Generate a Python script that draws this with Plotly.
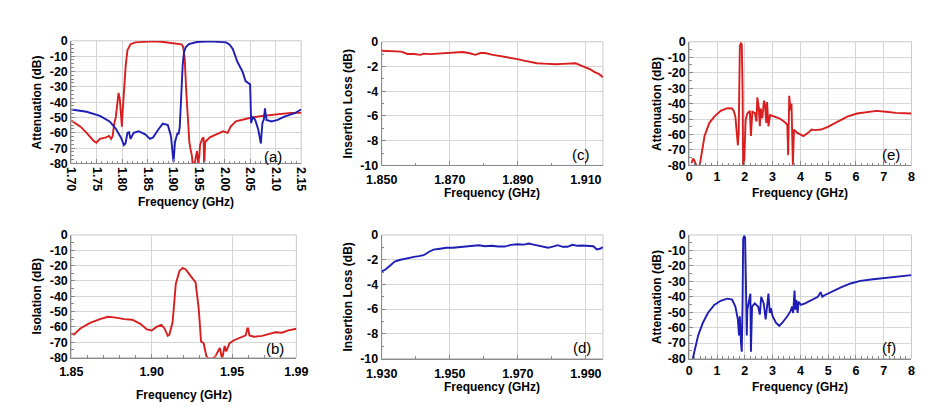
import plotly.graph_objects as go

W, H = 938, 410
RED = "#d81e1e"
BLUE = "#1e1eb4"

# ---------------- (a) duplexer attenuation ----------------
a_red_f = [1.700, 1.708, 1.718, 1.730, 1.743, 1.749, 1.756, 1.762, 1.768, 1.774, 1.778, 1.781, 1.784, 1.787,
           1.790, 1.7925, 1.795, 1.797, 1.799, 1.8005, 1.803, 1.8065, 1.810, 1.816, 1.8255, 1.845, 1.860,
           1.876, 1.895, 1.910, 1.916, 1.919, 1.922, 1.925, 1.928, 1.931, 1.933, 1.936, 1.938, 1.941, 1.943,
           1.946, 1.949, 1.952, 1.956, 1.959, 1.960, 1.962, 1.965, 1.971, 1.984, 1.997, 2.006, 2.012, 2.022,
           2.035, 2.047, 2.073, 2.098, 2.130, 2.150]
a_red_db = [-52, -54, -56, -60, -65, -66.5, -64, -63.5, -63, -62, -64, -62, -54, -50,
            -42, -34, -38, -48, -56, -46, -33, -16, -6, -2.2, -1.0, -0.5, -0.4,
            -0.6, -1.2, -1.7, -2.3, -4, -12, -33, -54, -66, -70, -75, -82, -82, -77,
            -72, -82, -68, -64, -63, -82, -66, -65, -63, -61, -59, -60, -56, -52.5,
            -51.5, -50.5, -49, -48, -47, -47]

a_blue_f = [1.700, 1.730, 1.756, 1.775, 1.7875, 1.797, 1.803, 1.806, 1.810, 1.813, 1.816, 1.822, 1.832,
            1.8445, 1.854, 1.860, 1.870, 1.879, 1.889, 1.895, 1.900, 1.903, 1.908, 1.910, 1.9123, 1.9155,
            1.918, 1.9206, 1.924, 1.930, 1.946, 1.971, 1.990, 2.003, 2.010, 2.016, 2.025, 2.035, 2.041,
            2.047, 2.050, 2.052, 2.055, 2.060, 2.066, 2.071, 2.074, 2.077, 2.079, 2.082, 2.092, 2.104,
            2.117, 2.136, 2.150]
a_blue_db = [-44.8, -46.3, -49, -52.6, -57.5, -63, -68, -67, -60, -59.6, -64, -60, -59,
             -61, -64, -63, -58, -54, -55, -62, -79, -66, -60, -61, -56, -32.6,
             -15.8, -7.4, -4.2, -2.1, -0.8, -0.4, -0.5, -1.0, -2.5, -5.3, -13.7, -20, -26.3,
             -28, -28.4, -53.7, -49.5, -51.6, -58, -67, -53.7, -51, -44, -51.6, -52.6, -51.6,
             -49.5, -47.4, -44.8]

# ---------------- (b) isolation ----------------
b_f = [1.8500, 1.8516, 1.8556, 1.8617, 1.8678, 1.8728, 1.8778, 1.8829, 1.8879, 1.8930, 1.8970, 1.9000,
       1.9030, 1.9060, 1.9080, 1.9100, 1.9110, 1.9130, 1.9150, 1.9172, 1.9192, 1.9212, 1.9242, 1.9273,
       1.9293, 1.9307, 1.9323, 1.9340, 1.9353, 1.9375, 1.9394, 1.9424, 1.9438, 1.9454, 1.9464, 1.9484,
       1.9515, 1.9545, 1.9565, 1.9585, 1.9595, 1.9600, 1.9608, 1.9636, 1.9686, 1.9746, 1.9770, 1.9810,
       1.9850, 1.9900]
b_db = [-64.3, -65, -61, -57.4, -54.9, -53.4, -53.9, -54.9, -55.3, -58, -61.6, -62.3,
        -60, -58.7, -61, -65.8, -65, -57, -32, -23.6, -21.5, -22.5, -26.7, -30.9,
        -48.6, -69.5, -70.6, -79, -80.5, -80.5, -79.5, -73.7, -81, -72.4, -76, -70.6,
        -68.5, -67, -66.4, -65.5, -61, -61, -65.6, -66.4, -65.8, -64.3, -63.5, -63.8,
        -62.2, -61.2]

# ---------------- (c) Tx insertion loss ----------------
c_f = [1.8500, 1.8528, 1.8557, 1.8576, 1.8595, 1.8614, 1.8623, 1.8642, 1.8671, 1.8700, 1.8718, 1.8737,
       1.8756, 1.8775, 1.8790, 1.8804, 1.8823, 1.8842, 1.8861, 1.8880, 1.8899, 1.8918, 1.8937, 1.8956,
       1.8975, 1.8994, 1.9013, 1.9032, 1.9051, 1.9070, 1.9084, 1.9098, 1.9113, 1.9127, 1.9138, 1.9150]
c_db = [-0.73, -0.78, -0.80, -0.99, -0.99, -1.06, -0.96, -1.00, -0.94, -0.91, -0.88, -0.83,
        -0.91, -1.06, -0.91, -0.91, -1.04, -1.12, -1.25, -1.32, -1.40, -1.53, -1.66, -1.74,
        -1.77, -1.82, -1.82, -1.79, -1.79, -1.74, -1.90, -2.03, -2.23, -2.47, -2.60, -2.86]

# ---------------- (d) Rx insertion loss ----------------
d_f = [1.9300, 1.9311, 1.9324, 1.9338, 1.9352, 1.9371, 1.9395, 1.9409, 1.9423, 1.9438, 1.9452, 1.9471,
       1.9490, 1.9509, 1.9528, 1.9547, 1.9566, 1.9585, 1.9604, 1.9623, 1.9642, 1.9661, 1.9680, 1.9699,
       1.9718, 1.9732, 1.9746, 1.9765, 1.9789, 1.9808, 1.9817, 1.9832, 1.9846, 1.9860, 1.9875, 1.9889,
       1.9908, 1.9922, 1.9932, 1.9941, 1.9950]
d_db = [-2.94, -2.80, -2.49, -2.16, -2.03, -1.90, -1.77, -1.71, -1.64, -1.38, -1.19, -1.12,
        -1.04, -1.04, -0.99, -0.94, -0.83, -0.83, -0.91, -0.88, -0.94, -0.94, -0.80, -0.75,
        -0.78, -0.70, -0.78, -0.91, -1.04, -0.91, -0.83, -0.96, -0.96, -0.80, -0.88, -0.86,
        -0.91, -0.91, -1.17, -1.12, -0.99]

# ---------------- (e) wideband Tx ----------------
e_f = [0.08, 0.14, 0.20, 0.26, 0.37, 0.43, 0.55, 0.72, 0.90, 1.13, 1.37, 1.54, 1.60, 1.66, 1.72, 1.75,
       1.78, 1.80, 1.82, 1.86, 1.89, 1.92, 1.94, 1.97, 2.03, 2.09, 2.18, 2.22, 2.27, 2.36, 2.42, 2.45,
       2.50, 2.54, 2.57, 2.63, 2.69, 2.73, 2.77, 2.80, 2.85, 2.91, 3.06, 3.24, 3.41, 3.53, 3.56, 3.60,
       3.64, 3.68, 3.73, 3.77, 3.88, 4.00, 4.11, 4.29, 4.40, 4.52, 4.75, 4.99, 5.34, 5.69, 6.04, 6.39,
       6.74, 7.09, 7.44, 8.00]
e_db = [-78.6, -75.5, -77.5, -80.5, -80.5, -73.4, -61, -52.6, -48.4, -44.7, -43, -43.2, -44.7, -48.4, -63, -67,
        -58.8, -31.8, -2.7, -1.0, -1.7, -31.8, -82, -82, -50.5, -46.4, -44.7, -61, -45.3, -46, -51.6, -36,
        -42.2, -54.7, -43.2, -49.5, -38, -41.2, -52.6, -39, -54.7, -47.4, -48.4, -49.5, -51.6, -53.6, -73.4, -35,
        -44.3, -40, -79.6, -56.8, -58.8, -60, -61, -58.8, -56.8, -57.2, -56.8, -55, -51.6, -48.4, -46.4, -45.3,
        -44.7, -45.3, -46, -46.4]

# ---------------- (f) wideband Rx ----------------
f_f = [0.12, 0.20, 0.32, 0.49, 0.67, 0.90, 1.13, 1.37, 1.54, 1.66, 1.75, 1.79, 1.82, 1.86, 1.89, 1.92,
       1.94, 1.97, 2.01, 2.04, 2.07, 2.09, 2.16, 2.20, 2.22, 2.26, 2.36, 2.48, 2.54, 2.59, 2.68, 2.75,
       2.80, 2.85, 2.90, 2.94, 3.00, 3.12, 3.24, 3.35, 3.53, 3.64, 3.70, 3.74, 3.79, 3.82, 3.86, 3.90,
       3.94, 4.02, 4.17, 4.40, 4.63, 4.73, 4.79, 4.87, 5.10, 5.46, 5.81, 6.16, 6.62, 7.09, 7.56, 8.00]
f_db = [-80.5, -73.4, -65, -56.8, -50.5, -45.3, -42.6, -41.2, -41.8, -46.4, -54.7, -65, -52.6, -69.2, -75.5, -42.2,
        -2.7, -0.6, -1.7, -31.8, -65, -48.4, -42.2, -38, -75.5, -46.4, -44.3, -46.4, -51.6, -40, -44.3, -54.7,
        -46.4, -38, -50.5, -47.4, -52.6, -56.8, -58.8, -56.8, -52.6, -49.5, -46.4, -50.5, -36, -48.4, -42.2, -50.5,
        -43.2, -45.3, -44.3, -42.2, -40, -37, -40, -39, -37, -33.9, -31.4, -29.7, -28.7, -27.7, -27, -26]

# tick definitions
db80_vals = [0, -10, -20, -30, -40, -50, -60, -70, -80]
db80_text = ["0", "-10", "-20", "-30", "-40", "-50", "-60", "-70", "-80"]
db10_vals = [0, -2, -4, -6, -8, -10]
db10_text = ["0", "-2", "-4", "-6", "-8", "-10"]
a_xticks = [1.70, 1.75, 1.80, 1.85, 1.90, 1.95, 2.00, 2.05, 2.10, 2.15]
b_xticks = [1.85, 1.90, 1.95, 1.99]
c_xticks = [1.850, 1.870, 1.890, 1.910]
d_xticks = [1.930, 1.950, 1.970, 1.990]
e_xticks = [0, 1, 2, 3, 4, 5, 6, 7, 8]

FONT = "Liberation Sans"
fig = go.Figure()

# pixel boxes (left, top, right, bottom)
boxes = [
    (57, 35, 294, 162),   # a
    (377, 36, 605, 164),  # c
    (694, 36, 923, 164),  # e
    (57, 236, 289, 363),  # b
    (377, 236, 605, 364), # d
    (694, 236, 923, 364), # f
]

series = [
    [(a_red_f, a_red_db, RED), (a_blue_f, a_blue_db, BLUE)],
    [(c_f, c_db, RED)],
    [(e_f, e_db, RED)],
    [(b_f, b_db, RED)],
    [(d_f, d_db, BLUE)],
    [(f_f, f_db, BLUE)],
]

xcfg = [
    dict(range=[1.70, 2.15], tickvals=a_xticks, ticktext=[f"{v:.2f}" for v in a_xticks], tickangle=90,
         minor=dict(tick0=1.70, dtick=0.01)),
    dict(range=[1.850, 1.915], tickvals=c_xticks, ticktext=[f"{v:.3f}" for v in c_xticks], tickangle=0,
         minor=dict(tick0=1.85, dtick=0.01), ticklabelstandoff=3),
    dict(range=[0, 8], tickvals=e_xticks, ticktext=[str(v) for v in e_xticks], tickangle=0,
         minor=dict(tick0=0, dtick=0.2)),
    dict(range=[1.85, 1.99], tickvals=b_xticks, ticktext=[f"{v:.2f}" for v in b_xticks], tickangle=0,
         minor=dict(tick0=1.85, dtick=0.01), ticklabelstandoff=2),
    dict(range=[1.930, 1.995], tickvals=d_xticks, ticktext=[f"{v:.3f}" for v in d_xticks], tickangle=0,
         minor=dict(tick0=1.93, dtick=0.01), ticklabelstandoff=3),
    dict(range=[0, 8], tickvals=e_xticks, ticktext=[str(v) for v in e_xticks], tickangle=0,
         minor=dict(tick0=0, dtick=0.2)),
]
ycfg = [
    dict(range=[-80, 0], tickvals=db80_vals, ticktext=db80_text, minor=dict(tick0=0, dtick=2.5)),
    dict(range=[-10, 0], tickvals=db10_vals, ticktext=db10_text, minor=dict(tick0=0, dtick=1)),
    dict(range=[-80, 0], tickvals=db80_vals, ticktext=db80_text, minor=dict(tick0=0, dtick=5)),
    dict(range=[-80, 0], tickvals=db80_vals, ticktext=db80_text, minor=dict(tick0=0, dtick=5)),
    dict(range=[-10, 0], tickvals=db10_vals, ticktext=db10_text, minor=dict(tick0=0, dtick=1)),
    dict(range=[-80, 0], tickvals=db80_vals, ticktext=db80_text, minor=dict(tick0=0, dtick=5)),
]
ytitles = ["Attenuation (dB)", "Insertion Loss (dB)", "Attenuation (dB)",
           "Isolation (dB)", "Insertion Loss (dB)", "Attenuation (dB)"]
xtitle_y = [202, 193, 193, 402, 393, 393]
ytitle_x = [22, 342, 660, 22, 342, 660]
labels = ["(a)", "(c)", "(e)", "(b)", "(d)", "(f)"]
label_pos = [(265, 155), (582, 153), (902, 153), (267, 354), (583, 353), (900, 353)]

tickfont = dict(family=FONT, size=12.5, color="black", weight="bold")
titlefont = dict(family=FONT, size=12, color="black", weight="bold")
common = dict(showline=True, linecolor="#8a8a8a", linewidth=1, showgrid=True, gridcolor="#d6d6d6",
              gridwidth=1, zeroline=False, ticks="inside", ticklen=4, tickcolor="#8a8a8a",
              tickfont=tickfont, tickmode="array", fixedrange=True)

annotations = []
shapes = []
for i, (box, ser) in enumerate(zip(boxes, series)):
    n = "" if i == 0 else str(i + 1)
    l, t, r, b = box
    xd = [l / W, r / W]
    yd = [1 - b / H, 1 - t / H]
    for xs, ys, col in ser:
        fig.add_trace(go.Scatter(x=xs, y=ys, mode="lines", line=dict(color=col, width=1.9),
                                 xaxis="x" + n, yaxis="y" + n, showlegend=False, hoverinfo="skip"))
    xc = dict(common)
    xc.update(xcfg[i])
    xc["minor"] = dict(xc["minor"], ticks="inside", ticklen=2.5, tickcolor="#8a8a8a", showgrid=False)
    xc.update(domain=xd, anchor="y" + n)
    yc = dict(common)
    yc.update(ycfg[i])
    yc["minor"] = dict(yc["minor"], ticks="inside", ticklen=2.5, tickcolor="#8a8a8a", showgrid=False)
    yc.update(domain=yd, anchor="x" + n)
    fig.update_layout(**{"xaxis" + n: xc, "yaxis" + n: yc})
    shapes.append(dict(type="rect", xref="x" + n + " domain", yref="y" + n + " domain",
                       x0=0, x1=1, y0=0, y1=1, line=dict(color="#c8c8c8", width=1), layer="below"))
    annotations.append(dict(text="Frequency (GHz)", xref="paper", yref="paper", x=(l + r) / 2 / W,
                            y=1 - xtitle_y[i] / H, xanchor="center", yanchor="middle", showarrow=False,
                            font=titlefont))
    annotations.append(dict(text=ytitles[i], xref="paper", yref="paper", x=ytitle_x[i] / W,
                            y=1 - (t + b) / 2 / H, xanchor="center", yanchor="middle", showarrow=False,
                            textangle=-90, font=titlefont))
    lx, ly = label_pos[i]
    annotations.append(dict(text=labels[i], xref="paper", yref="paper", x=lx / W, y=1 - ly / H,
                            xanchor="center", yanchor="middle", showarrow=False,
                            font=dict(family=FONT, size=15, color="black")))

fig.update_layout(width=W, height=H, margin=dict(l=0, r=0, t=0, b=0), paper_bgcolor="white",
                  plot_bgcolor="white", annotations=annotations, shapes=shapes, showlegend=False)
fig.write_html("out.html", config={"displayModeBar": False})
